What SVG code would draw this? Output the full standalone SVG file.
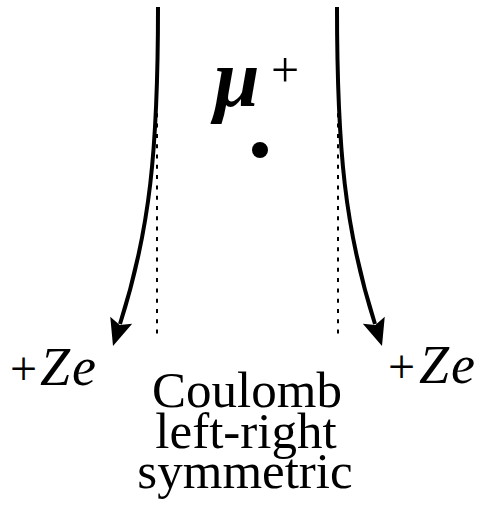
<svg xmlns="http://www.w3.org/2000/svg" width="488" height="516" viewBox="0 0 488 516">
<style>
.traj{fill:none;stroke:#000;stroke-width:4}
.dot{fill:none;stroke:#000;stroke-width:2;stroke-dasharray:4 6.3}
text{font-family:'Liberation Serif','Times New Roman',serif;fill:#000}
.i{font-style:italic}
</style>
<defs>
<marker id="ah" markerUnits="userSpaceOnUse" viewBox="0 -12 30 24" markerWidth="30" markerHeight="24" refX="4" refY="0" orient="auto" overflow="visible">
<path d="M0,-11.5 L27,0 L0,11.5 L5,0 Z" fill="#000"/>
</marker>
</defs>
<rect width="488" height="516" fill="#fff"/>
<g id="connectors">
<path class="traj" d="M158,7 C158,150 150,230 120,324" marker-end="url(#ah)"/>
<path class="traj" d="M337,7 C337,150 345,230 375,324" marker-end="url(#ah)"/>
<line class="dot" x1="157" y1="103" x2="157" y2="340"/>
<line class="dot" x1="338" y1="103" x2="338" y2="340"/>
</g>
<g id="muon">
<circle cx="260" cy="150" r="8" fill="#000"/>
<text x="214" y="106" font-size="82" font-weight="bold" font-style="italic">μ</text>
<text x="271" y="87" font-size="50">+</text>
</g>
<g id="nucleus-left">
<text x="10" y="385" font-size="48">+</text>
<text class="i" x="40" y="385" font-size="54" letter-spacing="2">Ze</text>
</g>
<g id="nucleus-right">
<text x="388" y="383" font-size="48">+</text>
<text class="i" x="419" y="383" font-size="54" letter-spacing="2">Ze</text>
</g>
<g id="caption">
<text x="247" y="407" font-size="51" text-anchor="middle">Coulomb</text>
<text x="246" y="448" font-size="51" text-anchor="middle">left-right</text>
<text x="245" y="488" font-size="51" text-anchor="middle">symmetric</text>
</g>
</svg>
